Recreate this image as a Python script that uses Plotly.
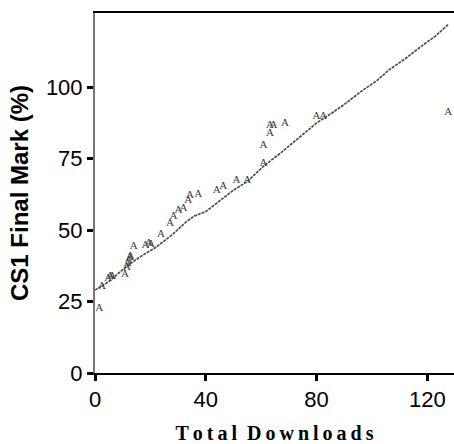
import plotly.graph_objects as go

# student points: total downloads vs CS1 final mark
downloads = [1.5, 2.5, 4.8, 5.5, 6.2, 10.8, 11.5, 11.8, 12.2, 12.5, 12.8, 14.0,
             18.2, 19.4, 20.2, 23.8, 27.1, 28.3, 30.1, 31.9, 33.7, 34.3, 37.3,
             43.9, 46.3, 51.1, 55.0, 60.8, 60.8, 63.2, 63.2, 64.4, 68.6, 80.0,
             82.4, 127.5]
marks = [22.5, 30.5, 33.0, 33.8, 34.0, 34.5, 37.0, 38.5, 39.5, 40.5, 41.0, 44.2,
         44.8, 45.5, 45.0, 48.5, 52.3, 55.0, 57.0, 57.8, 60.5, 62.2, 62.5,
         64.0, 65.2, 67.6, 67.3, 73.5, 79.7, 83.8, 86.7, 86.7, 87.3, 90.0,
         90.0, 91.4]

# fitted curve
fit_x = [0, 5, 11, 16, 22, 28, 33, 36, 40, 46, 50, 55, 61, 67, 73, 80, 84,
         90, 96, 102, 106, 112, 118, 123, 127.5]
fit_y = [29, 32, 37, 40.5, 44, 48.5, 53, 55, 56.5, 61, 64, 67, 72.5, 77, 82,
         87.5, 90, 94, 98.5, 102.5, 106, 110, 114.5, 118, 122]

fig = go.Figure()

fig.add_trace(go.Scatter(
    x=fit_x, y=fit_y, mode='lines',
    line=dict(color='#4d4d4d', width=1.7, dash='3px,1px'),
    hoverinfo='skip'
))

fig.add_trace(go.Scatter(
    x=downloads, y=marks, mode='text', text=['A'] * len(downloads),
    textposition='middle center',
    textfont=dict(family='Liberation Serif', size=11, color='#3a3a3a'),
    cliponaxis=False
))

fig.update_layout(
    width=454, height=444,
    margin=dict(l=95, r=0, t=13, b=71),
    paper_bgcolor='white', plot_bgcolor='white',
    showlegend=False,
    font=dict(family='Liberation Sans', color='black'),
    xaxis=dict(
        range=[0, 129.6], tickvals=[0, 40, 80, 120],
        showgrid=False, zeroline=False,
        showline=True, linecolor='black', linewidth=2, mirror=True,
        ticks='outside', ticklen=6, tickwidth=3, tickcolor='black',
        tickfont=dict(size=22),
        title=dict(text='T\u2009o\u2009t\u2009a\u2009l\u2002D\u2009o\u2009w\u2009n\u2009l\u2009o\u2009a\u2009d\u2009s',
                   font=dict(family='Liberation Serif', size=20, weight='bold'),
                   standoff=16)
    ),
    yaxis=dict(
        range=[0, 126], tickvals=[0, 25, 50, 75, 100],
        showgrid=False, zeroline=False,
        showline=True, linecolor='#777777', linewidth=2,
        ticks='outside', ticklen=6, tickwidth=3, tickcolor='black',
        tickfont=dict(size=22),
        title=dict(text='CS1 Final Mark (%)',
                   font=dict(family='Liberation Sans', size=24, weight='bold'),
                   standoff=10)
    )
)

# drop the page's default body margin so the figure sits at the window corner
fig.write_html("out.html", config={'displayModeBar': False},
               post_script="document.body.style.margin='0';")
